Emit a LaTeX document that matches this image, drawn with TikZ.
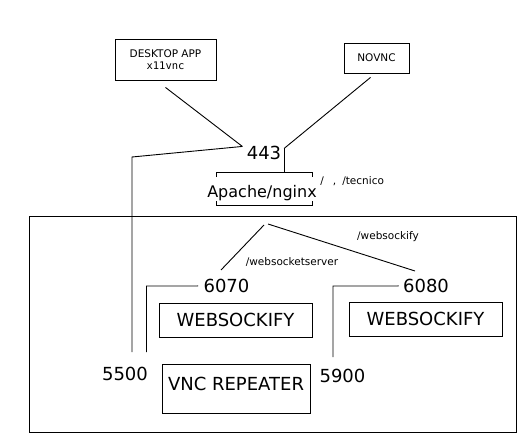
\documentclass[tikz,border=0pt]{standalone}
\usepackage{fontspec}
\setmainfont{DejaVu Sans}
\setmonofont{DejaVu Sans Mono}
\usetikzlibrary{positioning}

\begin{document}
\begin{tikzpicture}[x=1pt, y=-1pt, line width=0.9pt,
		box/.style={draw, inner sep=0pt},
		port/.style={font=\fontsize{18}{21}\selectfont, inner sep=0pt, anchor=base},
		tag/.style={font=\fontsize{10.5}{12}\selectfont, inner sep=0pt}]
	\useasboundingbox (0,0) rectangle (529,446);
	
	% outer frame
	\node [box, minimum width=487, minimum height=216] (frame) at (272.5,324) {};
	
	% clients
	\node [box, tag, align=center, minimum width=101, minimum height=41] (desktop) at (165.5,59.5) {DESKTOP APP\\{\ttfamily x11vnc}};
	\node [box, tag, minimum width=65, minimum height=30] (novnc) at (376.5,58) {NOVNC};
	
	% proxy
	\node [port] (p443) at (264,160) {443};
	\node [minimum width=95, minimum height=32, inner sep=0pt] (proxy) at (264,188.5) {};
	\node [port, font=\fontsize{16}{19}\selectfont] (apache) at (262,197) {Apache/nginx};
	\node [tag, anchor=base west] (paths) at (320,185) {/\hspace{9pt},\hspace{6pt}/tecnico};
	
	\draw ([yshift=-5pt]proxy.north west) -- (proxy.north west) -- (proxy.north east) -- ([yshift=-5pt]proxy.north east);
	\draw ([yshift=4pt]proxy.south west) -- (proxy.south west) -- (proxy.south east) -- ([yshift=4pt]proxy.south east);
	
	\coordinate (j443) at ([xshift=-4pt, yshift=7pt]p443.west);
	\coordinate (k443) at ([xshift=2.5pt, yshift=5pt]p443.east);
	\draw ([yshift=-7pt]desktop.south) -- (j443);
	\draw ([xshift=-6pt, yshift=-4pt]novnc.south) -- (k443);
	\draw (k443) -- (k443 |- proxy.north);
	
	% boxes inside
	\node [box, port, anchor=center, minimum width=153, minimum height=34] (wsa) at (235.5,320) {WEBSOCKIFY};
	\node [box, port, anchor=center, minimum width=153, minimum height=34] (wsb) at (425.5,319) {WEBSOCKIFY};
	\node [box, port, anchor=center, minimum width=148, minimum height=49, text height=13pt, text depth=8.8pt] (repeater) at (236,388.5) {VNC REPEATER};
	
	% ports
	\node [port] (p6070) at (226.5,292.5) {6070};
	\node [port] (p6080) at (426,292.5) {6080};
	\node [port] (p5500) at (125,380.5) {5500};
	\node [port] (p5900) at (342.5,382) {5900};
	
	\node [tag] (lserver) at (292,262) {/websocketserver};
	\node [tag] (lsockify) at (388,237) {/websockify};
	
	% connectors
	\coordinate (hub) at (266,224);
	\coordinate (ws1) at (221,270);
	\coordinate (ws2) at (415,271);
	\draw ([xshift=-2pt, yshift=-1pt]hub) -- (ws1);
	\draw ([xshift=2pt]hub) -- (ws2);
	
	\draw (j443) -- (132,157) -- (132,352);
	\draw ([xshift=-5pt]p6070.west) -- (146.5,286) -- (146.5,352);
	\draw ([xshift=-4pt]p6080.west) -- (333,286) -- (333,357);
\end{tikzpicture}
\end{document}
